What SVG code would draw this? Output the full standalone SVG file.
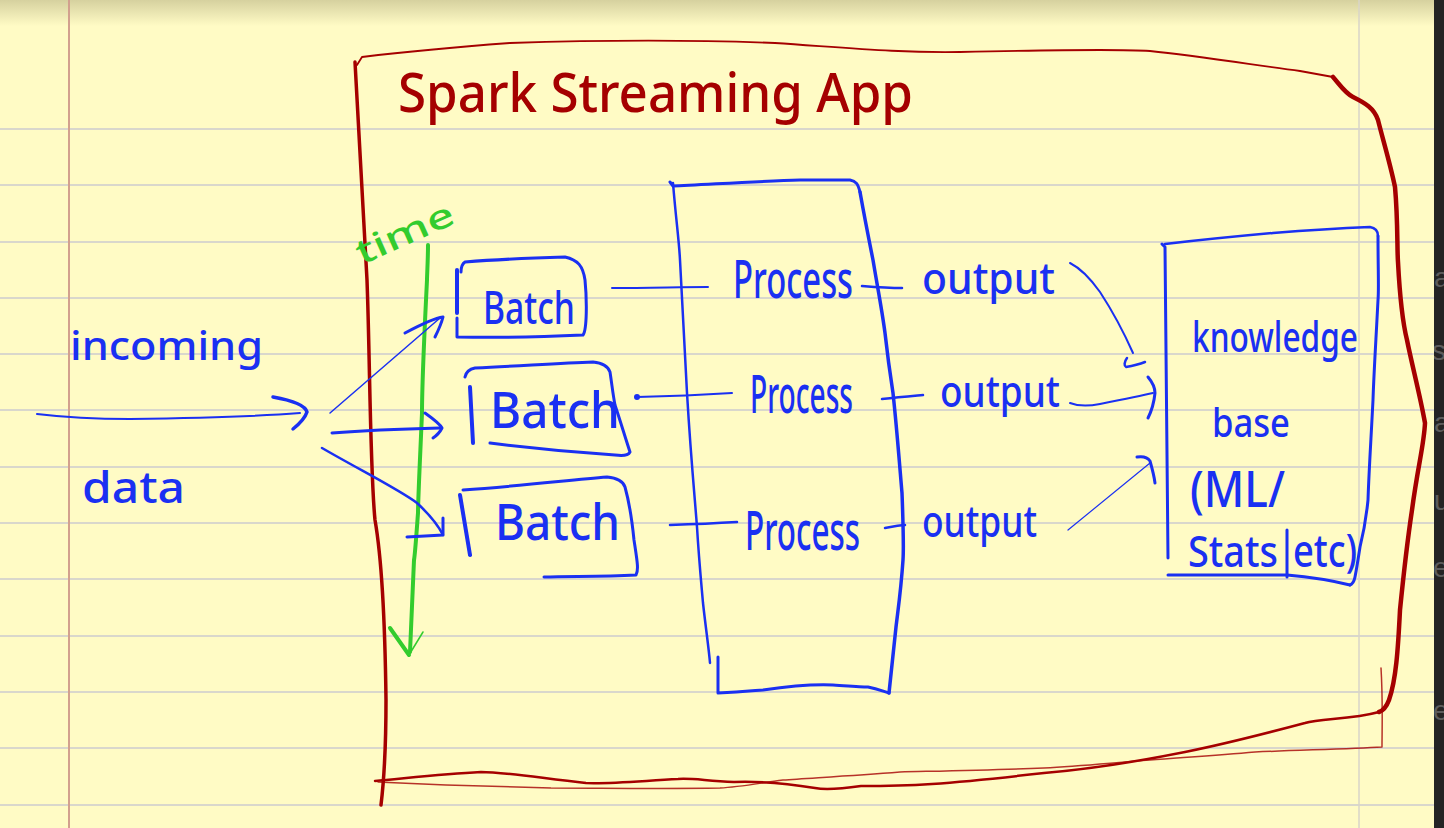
<svg xmlns="http://www.w3.org/2000/svg" width="1444" height="828" viewBox="0 0 1444 828">
  <defs>
    <linearGradient id="topShade" x1="0" y1="0" x2="0" y2="1">
      <stop offset="0" stop-color="#d6d19f"/>
      <stop offset="1" stop-color="#fffbc5"/>
    </linearGradient>
    <clipPath id="stripClip"><rect x="1434" y="0" width="10" height="828"/></clipPath>
    <style>
      .rule { stroke: #d9d7cc; stroke-width: 2; fill: none; }
      .red { stroke: #a50000; fill: none; stroke-linecap: round; stroke-linejoin: round; }
      .blue { stroke: #1a30f2; fill: none; stroke-linecap: round; stroke-linejoin: round; }
      .green { stroke: #33cc2e; fill: none; stroke-linecap: round; stroke-linejoin: round; }
      .hand { font-family: "Noto Sans", "DejaVu Sans", sans-serif; font-weight: 500; }
      .tb { fill: #1a30f2; }
      .tr { fill: #a50000; }
      .tg { fill: #33cc2e; }
      .frag { font-family: "Liberation Sans", sans-serif; font-size: 28px; fill: #5c5c5c; }
    </style>
  </defs>

  <!-- paper -->
  <g id="paper">
    <rect x="0" y="0" width="1444" height="828" fill="#fffbc5"/>
    <rect x="0" y="0" width="1444" height="26" fill="url(#topShade)"/>
    <path class="rule" d="M0,129H1434M0,185H1434M0,242H1434M0,298H1434M0,354H1434M0,410H1434M0,467H1434M0,523H1434M0,579H1434M0,636H1434M0,692H1434M0,748H1434M0,805H1434"/>
    <line x1="69" y1="0" x2="69" y2="828" stroke="#d2a08e" stroke-width="2"/>
    <line x1="1359" y1="0" x2="1359" y2="828" stroke="#d8d5c8" stroke-width="1.5"/>
    <rect x="1434" y="0" width="10" height="828" fill="#242424"/>
    <g clip-path="url(#stripClip)">
      <text class="frag" x="1434" y="287">ar</text>
      <text class="frag" x="1432" y="360">s</text>
      <text class="frag" x="1434" y="432">a</text>
      <text class="frag" x="1434" y="510">u</text>
      <text class="frag" x="1433" y="577">e</text>
      <text class="frag" x="1433" y="720">e</text>
    </g>
  </g>

  <!-- outer app frame -->
  <g id="app-frame">
    <path class="red" stroke-width="3.5" d="M355,62 C358,120 362,200 367,280 C370,360 370,470 375,520 C382,560 385,620 386,700 C386,740 384,780 381,805"/>
    <path class="red" stroke-width="1.8" d="M357,65 L362,57 C420,50 470,46 510,43 C600,40 700,40 775,43 C850,48 900,53 960,52 C1050,50 1120,49 1150,51 C1200,56 1260,66 1300,71 L1333,77"/>
    <path class="red" stroke-width="4.5" d="M1333,77 C1340,85 1345,93 1353,97 C1365,103 1374,108 1378,120 C1383,140 1390,163 1395,187 C1398,220 1397,250 1398,262 C1400,300 1402,320 1407,340 C1412,365 1420,395 1425,423 C1424,445 1418,465 1412,510 C1406,550 1403,580 1400,610 C1398,650 1396,680 1389,700 C1386,708 1382,711 1379,712"/>
    <path class="red" stroke-width="2.5" d="M1379,712 C1350,720 1320,718 1305,723 C1260,735 1220,745 1185,752 C1120,765 1080,770 1044,773 C1000,778 960,782 932,784 C900,786 870,786 861,786 C840,789 825,790 815,788 C790,784 760,781 734,782 C700,780 690,778 678,779 C640,781 610,784 586,783 C540,778 505,772 481,772 C440,774 400,779 375,781"/>
    <path class="red" stroke-width="1.5" opacity="0.8" d="M1381,668 C1383,700 1382,730 1382,747 C1350,749 1300,750 1255,752 C1220,755 1190,757 1150,760 C1110,763 1080,766 1044,768 C990,770 940,771 900,772 C850,776 810,778 783,780 C760,783 740,787 720,788 C660,789 600,788 551,788 C510,787 470,786 446,785 C420,784 400,783 378,782"/>
  </g>

  <g id="title">
    <text class="hand tr" x="398" y="112" font-size="54" textLength="515" lengthAdjust="spacingAndGlyphs">Spark Streaming App</text>
  </g>

  <!-- time axis -->
  <g id="time-axis">
    <text class="hand tg" x="362" y="265" font-size="34" textLength="104" lengthAdjust="spacingAndGlyphs" transform="rotate(-24 362 265)">time</text>
    <path class="green" stroke-width="4" d="M428,245 C428,260 427,275 427,280 C424,340 422,400 422,413 C420,460 418,500 418,513 C416,540 415,555 414,560 C412,600 411,630 410,652"/>
    <path class="green" stroke-width="4" d="M390,628 L409,655"/>
    <path class="green" stroke-width="1.5" d="M423,632 L409,655"/>
  </g>

  <g id="incoming-data">
    <text class="hand tb" x="70" y="360" font-size="40" textLength="193" lengthAdjust="spacingAndGlyphs">incoming</text>
    <text class="hand tb" x="82" y="503" font-size="44" textLength="103" lengthAdjust="spacingAndGlyphs">data</text>
  </g>

  <!-- batches -->
  <g id="batch1">
    <path class="blue" stroke-width="4" d="M457,270 L457,313"/>
    <path class="blue" stroke-width="3" d="M457,318 L457,337 C500,338 540,337 583,335 C587,330 587,300 585,280 C583,266 578,260 565,257 C530,258 490,260 465,262 C462,264 461,268 461,272"/>
    <text class="hand tb" x="483" y="324" font-size="46" textLength="92" lengthAdjust="spacingAndGlyphs">Batch</text>
  </g>
  <g id="batch2">
    <path class="blue" stroke-width="4" d="M470,387 L473,443"/>
    <path class="blue" stroke-width="3" d="M465,377 C466,372 470,369 475,368 C520,366 560,363 593,362 C603,363 608,366 610,372 C612,385 613,395 615,405 C620,420 626,440 630,452 C628,456 622,456 615,455 C570,452 530,448 490,443"/>
    <text class="hand tb" x="490" y="428" font-size="50" textLength="130" lengthAdjust="spacingAndGlyphs">Batch</text>
  </g>
  <g id="batch3">
    <path class="blue" stroke-width="4" d="M460,495 L470,555"/>
    <path class="blue" stroke-width="3" d="M463,490 C520,486 570,480 607,477 C617,478 623,481 625,487 C630,505 632,520 634,540 C637,560 639,570 636,575 C600,577 570,576 544,577"/>
    <text class="hand tb" x="495" y="540" font-size="50" textLength="125" lengthAdjust="spacingAndGlyphs">Batch</text>
  </g>

  <!-- processing stage -->
  <g id="process-box">
    <path class="blue" stroke-width="2.5" d="M673,183 C676,220 679,240 680,260 C683,320 686,370 687,393 C691,460 695,500 697,527 C699,560 701,580 703,603 C706,630 709,650 710,663"/>
    <path class="blue" stroke-width="3" d="M670,182 L673,186 C700,185 760,181 800,180 C820,180 840,180 850,180 C856,181 858,184 860,192"/>
    <path class="blue" stroke-width="3.5" d="M860,192 C865,220 870,245 873,260 C878,290 882,310 885,333 C888,360 891,380 893,393 C897,430 900,470 902,493 C903,520 904,545 903,560 C901,590 898,610 896,627 C893,655 891,675 889,693"/>
    <path class="blue" stroke-width="3" d="M718,657 L718,693 C740,692 750,691 763,690 C790,686 810,684 833,685 C850,686 865,687 868,687 C878,689 885,692 889,693"/>
  </g>
  <g id="process1">
    <text class="hand tb" x="733" y="298" font-size="52" textLength="120" lengthAdjust="spacingAndGlyphs">Process</text>
  </g>
  <g id="process2">
    <text class="hand tb" x="750" y="413" font-size="52" textLength="103" lengthAdjust="spacingAndGlyphs">Process</text>
  </g>
  <g id="process3">
    <text class="hand tb" x="745" y="550" font-size="54" textLength="115" lengthAdjust="spacingAndGlyphs">Process</text>
  </g>

  <g id="output1">
    <text class="hand tb" x="922" y="294" font-size="44" textLength="133" lengthAdjust="spacingAndGlyphs">output</text>
  </g>
  <g id="output2">
    <text class="hand tb" x="940" y="407" font-size="44" textLength="120" lengthAdjust="spacingAndGlyphs">output</text>
  </g>
  <g id="output3">
    <text class="hand tb" x="922" y="537" font-size="44" textLength="115" lengthAdjust="spacingAndGlyphs">output</text>
  </g>

  <!-- knowledge base -->
  <g id="knowledge-base">
    <path class="blue" stroke-width="3" d="M1162,244 L1165,247 L1168,558"/>
    <path class="blue" stroke-width="2.5" d="M1165,244 C1200,240 1240,236 1273,233 C1310,230 1345,228 1370,227 C1376,228 1378,232 1378,236"/>
    <path class="blue" stroke-width="3" d="M1378,236 C1378,270 1379,290 1378,300 C1376,340 1374,370 1373,400 C1371,440 1369,470 1368,500 C1366,520 1363,535 1360,547 C1358,560 1356,572 1355,577 C1354,582 1353,584 1350,585"/>
    <path class="blue" stroke-width="3" d="M1168,575 C1200,575 1250,575 1287,575 C1310,577 1330,580 1350,585"/>
    <path class="blue" stroke-width="3" d="M1287,530 L1287,577"/>
    <text class="hand tb" x="1192" y="352" font-size="42" textLength="166" lengthAdjust="spacingAndGlyphs">knowledge</text>
    <text class="hand tb" x="1212" y="437" font-size="40" textLength="78" lengthAdjust="spacingAndGlyphs">base</text>
    <text class="hand tb" x="1190" y="507" font-size="50" textLength="95" lengthAdjust="spacingAndGlyphs">(ML/</text>
    <text class="hand tb" x="1188" y="567" font-size="44" textLength="90" lengthAdjust="spacingAndGlyphs">Stats</text>
    <text class="hand tb" x="1293" y="567" font-size="46" textLength="64" lengthAdjust="spacingAndGlyphs">etc)</text>
  </g>

  <!-- connectors -->
  <g id="connectors">
    <path class="blue" stroke-width="2" d="M37,414 C70,418 90,419 130,419 C200,418 250,417 300,413"/>
    <path class="blue" stroke-width="3.5" d="M273,397 C290,400 305,405 307,412 C305,418 298,425 293,429"/>
    <path class="blue" stroke-width="1.5" d="M330,413 L440,318"/>
    <path class="blue" stroke-width="3" d="M405,333 C420,325 435,318 443,317 C441,325 438,331 435,337"/>
    <path class="blue" stroke-width="3" d="M332,433 C370,430 400,429 440,428"/>
    <path class="blue" stroke-width="3" d="M425,413 C432,418 440,424 442,428 C440,432 436,436 433,438"/>
    <path class="blue" stroke-width="2.5" d="M322,448 C360,470 400,490 417,503 C430,515 438,525 443,535"/>
    <path class="blue" stroke-width="3" d="M443,518 L443,535 M407,537 L443,535"/>
    <path class="blue" stroke-width="2" d="M612,288 C650,288 680,287 708,287"/>
    <circle cx="637" cy="397" r="3" fill="#1a30f2"/>
    <path class="blue" stroke-width="2" d="M637,397 C680,396 700,395 732,393"/>
    <path class="blue" stroke-width="2.5" d="M670,525 C700,524 720,523 737,522"/>
    <path class="blue" stroke-width="2.5" d="M862,286 C875,287 890,288 902,288"/>
    <path class="blue" stroke-width="2.5" d="M882,399 C900,397 912,396 923,395"/>
    <path class="blue" stroke-width="2.5" d="M885,528 C895,526 900,525 905,525"/>
    <path class="blue" stroke-width="2" d="M1070,263 C1080,268 1090,278 1100,292 C1115,315 1125,335 1133,353"/>
    <path class="blue" stroke-width="2.5" d="M1127,358 C1124,362 1124,366 1126,367 C1132,366 1140,364 1145,362"/>
    <path class="blue" stroke-width="2" d="M1070,403 C1080,407 1090,406 1100,404 C1120,400 1140,396 1153,393"/>
    <path class="blue" stroke-width="3" d="M1148,377 C1153,383 1155,388 1155,393 C1154,403 1152,410 1148,418"/>
    <path class="blue" stroke-width="1.2" d="M1068,530 L1150,463"/>
    <path class="blue" stroke-width="3" d="M1137,457 C1143,456 1148,458 1150,461 C1152,468 1154,475 1155,483"/>
  </g>
</svg>
